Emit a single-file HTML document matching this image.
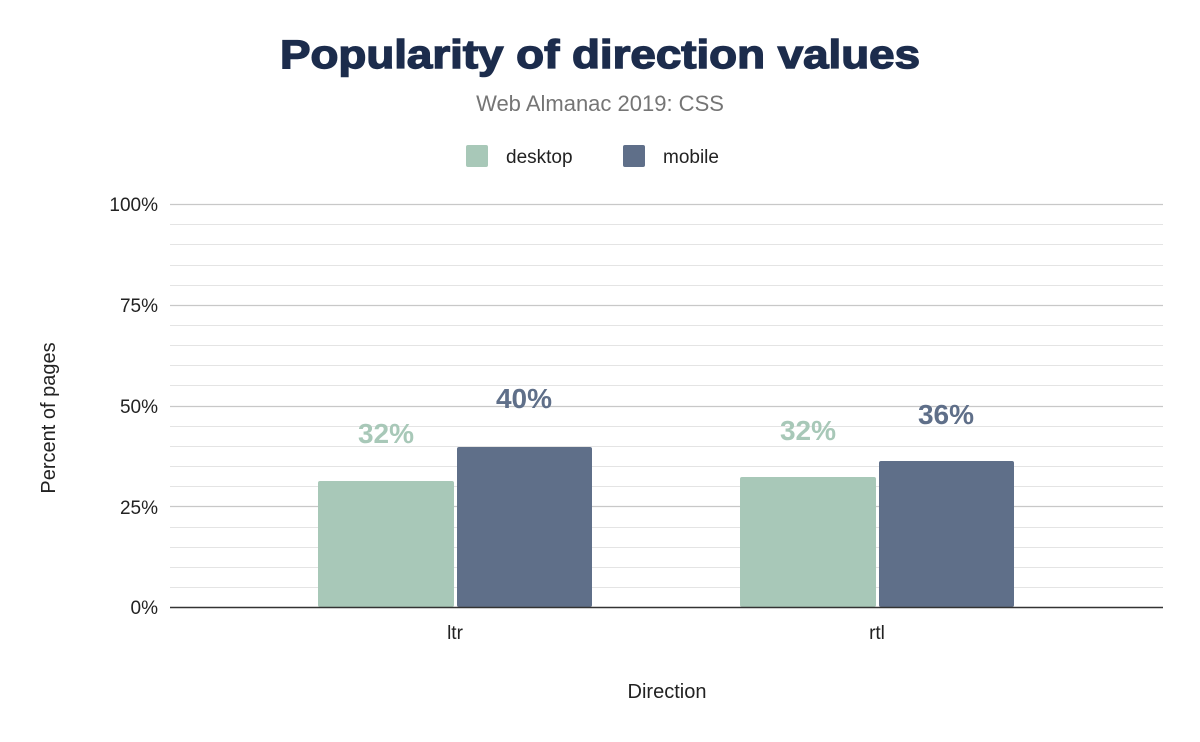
<!DOCTYPE html>
<html><head><meta charset="utf-8"><style>
body{margin:0;background:#fff;}
svg{display:block;font-family:"Liberation Sans",Arial,sans-serif;}
</style></head><body>
<svg width="1200" height="742" viewBox="0 0 1200 742" xmlns="http://www.w3.org/2000/svg">
<rect width="1200" height="742" fill="#fff"/>
<text x="280" y="68" textLength="640" lengthAdjust="spacingAndGlyphs" font-size="40" font-weight="bold" fill="#1c2c4c" stroke="#1c2c4c" stroke-width="1.4">Popularity of direction values</text>
<text x="600" y="111" text-anchor="middle" font-size="22" fill="#757575">Web Almanac 2019: CSS</text>
<rect x="466" y="145" width="22" height="22" rx="2" fill="#a8c8b8"/>
<text x="506" y="163" font-size="19" fill="#222">desktop</text>
<rect x="623" y="145" width="22" height="22" rx="2" fill="#5f6f89"/>
<text x="663" y="163" font-size="19" fill="#222">mobile</text>
<g stroke="#e4e4e4" stroke-width="1">
<line x1="170" x2="1163" y1="224.5" y2="224.5"/><line x1="170" x2="1163" y1="244.5" y2="244.5"/><line x1="170" x2="1163" y1="265.5" y2="265.5"/><line x1="170" x2="1163" y1="285.5" y2="285.5"/>
<line x1="170" x2="1163" y1="325.5" y2="325.5"/><line x1="170" x2="1163" y1="345.5" y2="345.5"/><line x1="170" x2="1163" y1="365.5" y2="365.5"/><line x1="170" x2="1163" y1="385.5" y2="385.5"/>
<line x1="170" x2="1163" y1="426.5" y2="426.5"/><line x1="170" x2="1163" y1="446.5" y2="446.5"/><line x1="170" x2="1163" y1="466.5" y2="466.5"/><line x1="170" x2="1163" y1="486.5" y2="486.5"/>
<line x1="170" x2="1163" y1="527.5" y2="527.5"/><line x1="170" x2="1163" y1="547.5" y2="547.5"/><line x1="170" x2="1163" y1="567.5" y2="567.5"/><line x1="170" x2="1163" y1="587.5" y2="587.5"/>
</g>
<g stroke="#c8c8c8" stroke-width="1.2">
<line x1="170" x2="1163" y1="204.5" y2="204.5"/><line x1="170" x2="1163" y1="305.5" y2="305.5"/><line x1="170" x2="1163" y1="406.5" y2="406.5"/><line x1="170" x2="1163" y1="506.5" y2="506.5"/>
</g>
<g font-size="19" fill="#222" text-anchor="end">
<text x="158" y="211">100%</text><text x="158" y="312">75%</text><text x="158" y="413">50%</text><text x="158" y="514">25%</text><text x="158" y="614">0%</text>
</g>
<rect x="318" y="481" width="136" height="126" rx="2" fill="#a8c8b8"/>
<rect x="457" y="447" width="135" height="160" rx="2" fill="#5f6f89"/>
<rect x="740" y="477" width="136" height="130" rx="2" fill="#a8c8b8"/>
<rect x="879" y="461" width="135" height="146" rx="2" fill="#5f6f89"/>
<line x1="170" x2="1163" y1="607.5" y2="607.5" stroke="#333" stroke-width="1.5"/>
<g font-size="28" font-weight="bold" text-anchor="middle">
<text x="386" y="443" fill="#a8c8b8">32%</text><text x="524" y="408" fill="#5f6f89">40%</text>
<text x="808" y="440" fill="#a8c8b8">32%</text><text x="946" y="424" fill="#5f6f89">36%</text>
</g>
<text x="455" y="639" font-size="19" fill="#222" text-anchor="middle">ltr</text>
<text x="877" y="639" font-size="19" fill="#222" text-anchor="middle">rtl</text>
<text x="667" y="698" font-size="20" fill="#222" text-anchor="middle">Direction</text>
<text transform="translate(55,418) rotate(-90)" font-size="20" fill="#222" text-anchor="middle">Percent of pages</text>
</svg>
</body></html>
